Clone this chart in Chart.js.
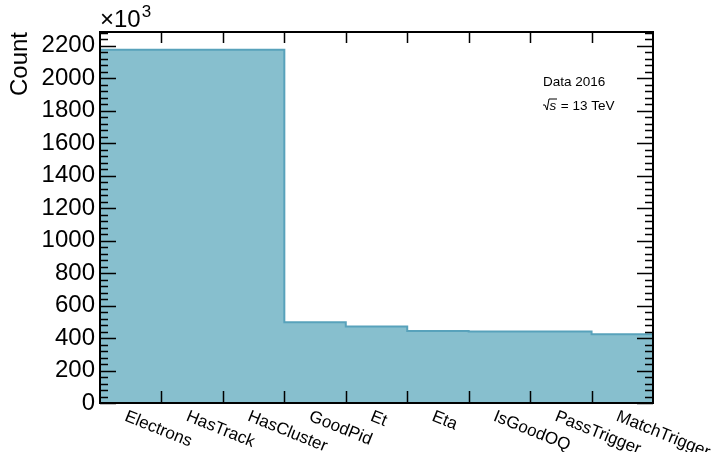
<!DOCTYPE html>
<html>
<head>
<meta charset="utf-8">
<script src="https://cdn.jsdelivr.net/npm/chart.js@4/dist/chart.umd.min.js"></script>
<style>
html,body{margin:0;padding:0;background:#fff;}
#wrap{width:715px;height:452px;position:relative;}
</style>
</head>
<body>
<div id="wrap"><canvas id="c" width="715" height="452"></canvas></div>
<script>
// ---- data (counts in units of 10^3) ----
const categories = ['Electrons','HasTrack','HasCluster','GoodPid','Et','Eta','IsGoodOQ','PassTrigger','MatchTrigger'];
const counts = [2175, 2175, 2175, 497, 471, 443, 441, 440, 423];
const yTicks = [0,200,400,600,800,1000,1200,1400,1600,1800,2000,2200];
const yMax = 2285;

const FONT = "'Liberation Sans', Arial, Helvetica, sans-serif";
const FILL = 'rgb(135,191,206)';
const LINE = 'rgb(88,162,187)';

// histogram step points at bin left edges, final point closes the last bin
const stepPoints = counts.map((v,i)=>({x:i, y:v}));
stepPoints.push({x:counts.length, y:counts[counts.length-1]});

const decor = {
  id:'decor',
  afterDraw(chart){
    const ctx = chart.ctx;
    const a = chart.chartArea;
    const xs = chart.scales.x, ys = chart.scales.y;
    ctx.save();
    ctx.strokeStyle = '#000';
    ctx.lineWidth = 1.5;
    // y ticks (left and right)
    for (let v=0; v<=yMax; v+=40){
      const y = Math.round(ys.getPixelForValue(v))+0.5;
      const major = (v % 200) === 0;
      const L = major ? 16 : 8;
      ctx.beginPath();
      ctx.moveTo(a.left, y); ctx.lineTo(a.left+L, y);
      ctx.moveTo(a.right, y); ctx.lineTo(a.right-L, y);
      ctx.stroke();
    }
    // x ticks at bin edges (bottom and top)
    for (let i=1;i<categories.length;i++){
      const x = Math.round(xs.getPixelForValue(i))+0.5;
      ctx.beginPath();
      ctx.moveTo(x, a.bottom); ctx.lineTo(x, a.bottom-12);
      ctx.moveTo(x, a.top); ctx.lineTo(x, a.top+11);
      ctx.stroke();
    }
    // frame
    ctx.lineWidth = 2;
    ctx.strokeRect(a.left, a.top, a.right-a.left, a.bottom-a.top);

    // category labels
    ctx.fillStyle = '#000';
    ctx.font = '17px ' + FONT;
    ctx.textAlign = 'left';
    ctx.textBaseline = 'top';
    categories.forEach((c,i)=>{
      const x = xs.getPixelForValue(i+0.5);
      ctx.save();
      ctx.translate(x-2, a.bottom+5);
      ctx.rotate(22*Math.PI/180);
      ctx.fillText(c, 0, 0);
      ctx.restore();
    });

    // x10^3
    ctx.textBaseline = 'alphabetic';
    ctx.font = '24px ' + FONT;
    ctx.fillText('\u00d710', 100, 27);
    const w = ctx.measureText('\u00d710').width;
    ctx.font = '17px ' + FONT;
    ctx.fillText('3', 100+w+1, 17);

    // y title
    ctx.save();
    ctx.font = '24px ' + FONT;
    ctx.translate(27, a.top);
    ctx.rotate(-Math.PI/2);
    ctx.textAlign = 'right';
    ctx.textBaseline = 'alphabetic';
    ctx.fillText('Count', 0, 0);
    ctx.restore();

    // annotation
    ctx.font = '13.5px ' + FONT;
    ctx.textAlign = 'left';
    ctx.fillText('Data 2016', 543, 86);
    // sqrt(s) = 13 TeV
    let x0 = 543, yb = 110;
    ctx.lineWidth = 1;
    ctx.beginPath();
    ctx.moveTo(x0, yb-5); ctx.lineTo(x0+2, yb-5); ctx.lineTo(x0+4, yb); ctx.lineTo(x0+6, yb-11); ctx.lineTo(x0+14, yb-11);
    ctx.stroke();
    ctx.font = 'italic 13.5px ' + FONT;
    ctx.fillText('s', x0+6.5, yb);
    ctx.font = '13.5px ' + FONT;
    ctx.fillText(' = 13 TeV', x0+14, yb);
    ctx.restore();
  }
};

new Chart(document.getElementById('c'), {
  type:'line',
  data:{
    datasets:[{
      data: stepPoints,
      stepped:'before',
      fill:'origin',
      backgroundColor: FILL,
      borderColor: LINE,
      borderWidth: 2,
      pointRadius: 0,
      tension: 0
    }]
  },
  options:{
    responsive:false,
    animation:false,
    devicePixelRatio:1,
    layout:{padding:{top:32,right:62,bottom:49,left:0}},
    plugins:{legend:{display:false},tooltip:{enabled:false}},
    scales:{
      x:{type:'linear',min:0,max:categories.length,display:false},
      y:{
        type:'linear',min:0,max:yMax,
        grid:{display:false,drawTicks:false},
        border:{display:false},
        afterBuildTicks(s){ s.ticks = yTicks.map(v=>({value:v})); },
        afterFit(s){ s.width = 100; },
        ticks:{color:'#000',padding:5,font:{family:FONT,size:24},autoSkip:false,
               callback:(v)=>String(v)}
      }
    }
  },
  plugins:[decor]
});
</script>
</body>
</html>
